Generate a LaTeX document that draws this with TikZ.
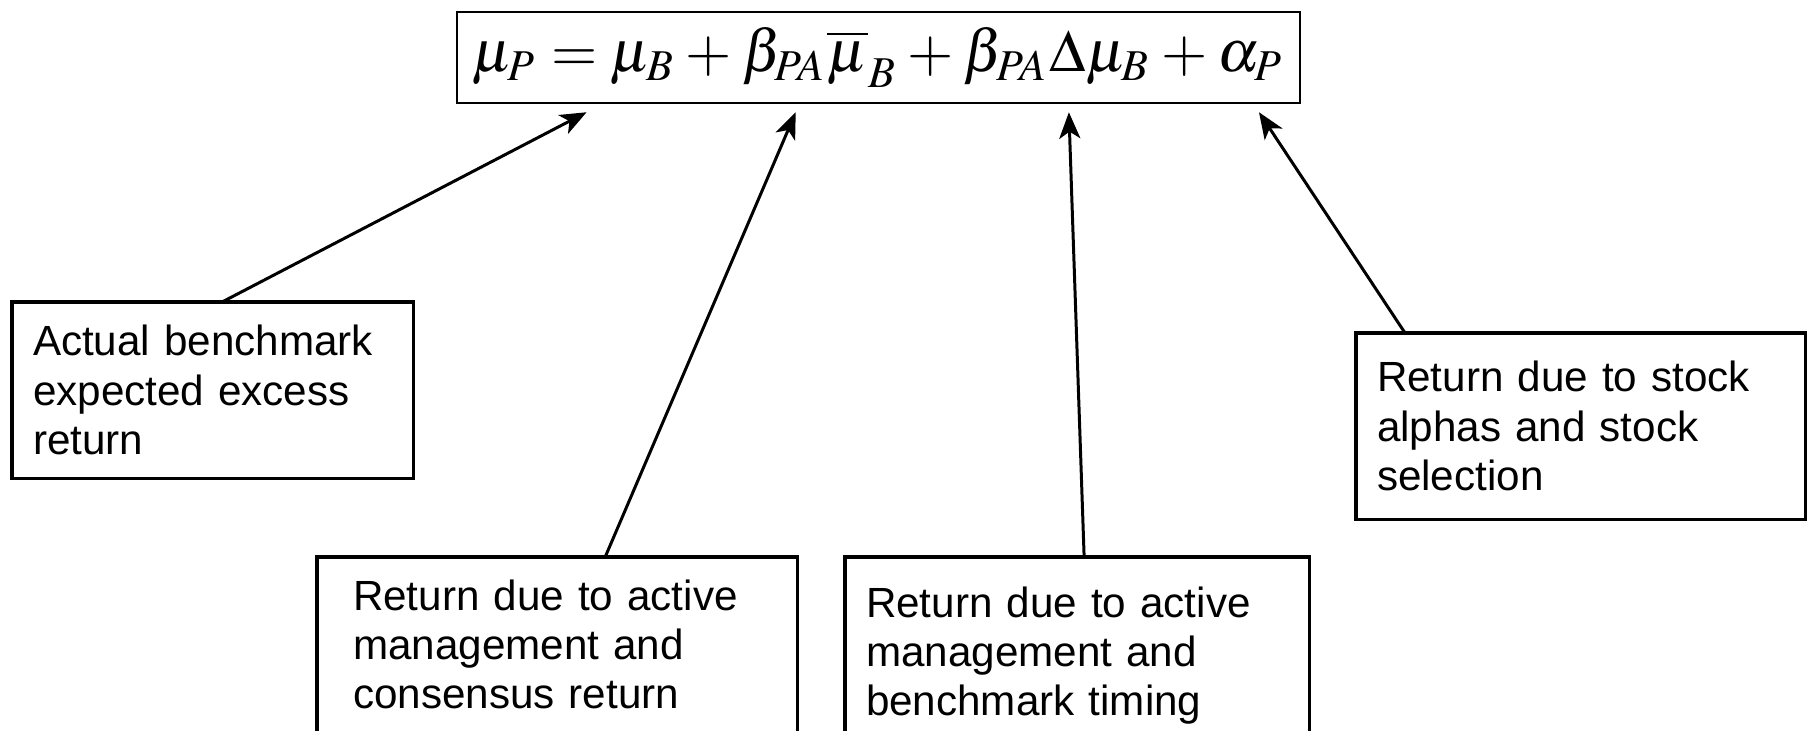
\documentclass[tikz,border=0pt]{standalone}
\usepackage{graphicx}
\usepackage{mathptmx}
\usepackage[no-math]{fontspec}
\newfontfamily\arialfont{Liberation Sans}
\usetikzlibrary{arrows.meta}
\tikzset{
  note/.style={draw, line width=0.9pt, outer sep=0pt, anchor=north west, align=left,
    inner xsep=0.21cm, font=\arialfont\fontsize{12}{14}\selectfont},
  pointer/.style={-{Stealth[length=7.5pt,width=6pt,inset=2pt]}, line width=0.85pt}
}
\begin{document}
\begin{tikzpicture}[x=0.01cm,y=-0.01cm]
  \useasboundingbox (0,0) rectangle (1814,731);
  \clip (0,0) rectangle (1814,731);
  % Formel
  \node[draw, line width=0.7pt, minimum width=8.43cm, minimum height=0.91cm, inner sep=0pt] (eqn) at (878.5,57.5)
    {\resizebox{8.12cm}{!}{$\medmuskip=3mu\thickmuskip=4mu
      \mu_P = \mu_B + \beta_{PA}\overline{\mu}_B + \beta_{PA}\Delta\mu_B + \alpha_P$}};
  % Kaesten
  \node[note, minimum width=4.01cm, minimum height=1.76cm, text width=3.59cm] (bench) at (12,302)
    {Actual benchmark\\expected excess\\return};
  \node[note, minimum width=4.80cm, minimum height=1.75cm, text width=4.08cm, inner xsep=0.36cm] (consensus) at (317,557)
    {Return due to active\\management and\\consensus return};
  \node[note, minimum width=4.64cm, minimum height=1.97cm, text width=4.22cm] (timing) at (845,557)
    {Return due to active\\management and\\benchmark timing};
  \node[note, minimum width=4.49cm, minimum height=1.86cm, text width=4.07cm] (stock) at (1356,333)
    {Return due to stock\\alphas and stock\\selection};
  % Pfeile
  \draw[pointer] ([xshift=2.10cm]bench.north west) -- ([xshift=1.31cm,yshift=-0.08cm]eqn.south west);
  \draw[pointer] ([xshift=2.88cm]consensus.north west) -- ([xshift=3.40cm,yshift=-0.08cm]eqn.south west);
  \draw[pointer] ([xshift=2.39cm]timing.north west) -- ([xshift=6.13cm,yshift=-0.08cm]eqn.south west);
  \draw[pointer] ([xshift=0.49cm]stock.north west) -- ([xshift=8.03cm,yshift=-0.08cm]eqn.south west);
\end{tikzpicture}
\end{document}
